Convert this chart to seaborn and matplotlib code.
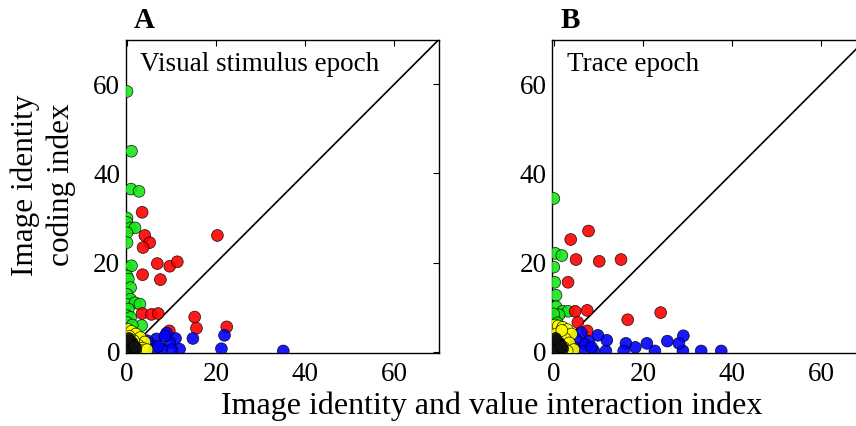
import seaborn as sns
import matplotlib.pyplot as plt
import pandas as pd

# panel A: visual stimulus epoch
green_x_a = [0.0, 1.0, 0.9, 2.7, 0.0, 0.0, 0.8, 1.8, 0.0, 0.0, 0.0, 1.0, 0.0, 0.3, 0.8, 0.0, 0.8, 0.0, 1.8, 2.9, 0.3, 0.0, 0.8, 0.0, 3.3, 0.2, 0.5, 1.2]
green_y_a = [58.4, 45.0, 36.5, 36.0, 30.0, 29.0, 27.8, 27.8, 26.7, 24.5, 18.9, 19.3, 17.0, 16.3, 14.4, 12.9, 11.8, 10.7, 11.0, 10.7, 9.6, 8.1, 7.7, 6.6, 5.9, 5.0, 4.5, 6.0]
red_x_a = [3.4, 4.0, 5.1, 3.6, 20.3, 6.8, 9.6, 11.3, 3.5, 7.5, 3.4, 5.5, 7.0, 15.2, 15.6, 22.4, 9.5]
red_y_a = [31.3, 26.1, 24.5, 23.4, 26.1, 19.8, 19.2, 20.2, 17.3, 16.2, 8.6, 8.4, 8.6, 7.8, 5.3, 5.6, 4.7]
blue_x_a = [35.1, 21.2, 21.9, 14.8, 8.9, 10.9, 6.6, 9.6, 11.8, 10.0, 7.8, 5.9, 5.1, 4.5, 7.0, 3.8, 8.5]
blue_y_a = [0.2, 0.7, 3.7, 3.0, 4.2, 3.0, 2.9, 2.1, 0.6, 0.5, 0.6, 0.5, 1.8, 2.5, 1.2, 0.8, 3.5]
yellow_x_a = [0.3, 1.0, 2.0, 3.0, 4.0, 2.5, 1.5, 0.5, 3.5, 0.8, 1.8, 2.8, 0.2, 1.2, 4.5, 0.6]
yellow_y_a = [5.0, 4.6, 4.0, 3.2, 2.2, 1.5, 2.5, 3.5, 0.8, 1.2, 0.6, 0.4, 2.0, 0.3, 0.5, 0.1]
black_x_a = [0.1, 0.5, 1.0, 1.5, 0.3, 0.8, 1.2, 0.2, 0.6, 2.0, 0.4, 1.7]
black_y_a = [0.2, 0.5, 1.0, 0.3, 1.5, 0.1, 2.0, 0.8, 2.5, 0.7, 3.0, 1.2]

# panel B: trace epoch
green_x_b = [0.0, 0.3, 1.8, 0.0, 0.2, 0.5, 0.5, 2.0, 3.2, 0.2, 1.2, 0.0, 0.8, 0.3]
green_y_b = [34.4, 22.1, 21.6, 19.0, 15.6, 12.7, 10.1, 9.1, 9.1, 7.1, 8.3, 8.5, 6.5, 5.8]
red_x_b = [7.8, 3.8, 5.0, 10.2, 15.1, 3.2, 4.8, 7.5, 24.0, 16.6, 5.4, 7.5]
red_y_b = [27.1, 25.2, 20.7, 20.3, 20.7, 15.6, 9.1, 9.3, 8.8, 7.2, 6.6, 4.7]
blue_x_b = [37.6, 33.1, 29.0, 29.1, 28.1, 25.5, 22.7, 20.9, 18.3, 16.2, 15.7, 11.7, 11.9, 9.9, 9.0, 7.8, 6.2, 6.9, 6.2, 5.0, 4.5, 8.5]
blue_y_b = [0.2, 0.2, 0.2, 3.6, 1.9, 2.4, 0.2, 1.9, 1.0, 1.9, 0.2, 0.2, 2.6, 3.7, 0.2, 2.4, 4.3, 1.7, 0.2, 2.8, 1.0, 1.0]
yellow_x_b = [0.2, 1.0, 2.0, 3.0, 4.0, 0.5, 1.5, 2.5, 3.5, 0.3, 1.2, 2.2, 4.5, 0.8, 3.0, 1.8]
yellow_y_b = [6.0, 5.8, 5.5, 5.0, 4.0, 4.0, 3.5, 3.0, 2.0, 2.0, 1.5, 1.0, 0.5, 0.3, 0.2, 4.8]
black_x_b = [0.1, 0.5, 1.0, 1.5, 0.3, 0.8, 1.2, 0.2, 0.6, 2.0, 0.4, 1.7]
black_y_b = [0.2, 0.5, 1.0, 0.3, 1.5, 0.1, 2.0, 0.8, 2.5, 0.7, 3.0, 1.2]

ticks = [0, 20, 40, 60]
panel_titles = {"A": "Visual stimulus epoch", "B": "Trace epoch"}
palette = {"green": "#19e619", "red": "#ff0000", "blue": "#0000ff",
           "yellow": "#ffff00", "black": "#111111"}


def make_frame(panel, groups):
    rows = []
    for name, xs, ys in groups:
        for x, y in zip(xs, ys):
            rows.append({"panel": panel, "group": name, "x": x, "y": y})
    return pd.DataFrame(rows)


df = pd.concat([
    make_frame("A", [("green", green_x_a, green_y_a), ("red", red_x_a, red_y_a),
                     ("blue", blue_x_a, blue_y_a), ("yellow", yellow_x_a, yellow_y_a),
                     ("black", black_x_a, black_y_a)]),
    make_frame("B", [("green", green_x_b, green_y_b), ("red", red_x_b, red_y_b),
                     ("blue", blue_x_b, blue_y_b), ("yellow", yellow_x_b, yellow_y_b),
                     ("black", black_x_b, black_y_b)]),
], ignore_index=True)

sns.set_style("white")
plt.rcParams['font.family'] = ['Liberation Serif', 'DejaVu Serif']
plt.rcParams['text.color'] = 'black'

fig = plt.figure(figsize=(8.56, 4.26), dpi=100)
lefts = {"A": 0.1468, "B": 0.6454}

for panel in ["A", "B"]:
    ax = fig.add_axes([lefts[panel], 0.172, 0.3657, 0.7347])
    sns.scatterplot(data=df[df.panel == panel], x="x", y="y", hue="group",
                    palette=palette, s=72, edgecolor=(0, 0, 0, 0.6), linewidth=0.5,
                    alpha=0.9, legend=False, ax=ax, zorder=3)
    ax.plot([0, 70], [0, 70], color="black", lw=1.2, zorder=2)
    ax.set_xlim(-0.3, 70)
    ax.set_ylim(-0.2, 70)
    ax.set_xticks(ticks)
    ax.set_yticks(ticks)
    ax.tick_params(direction="in", length=4, width=0.8, top=True, right=True,
                   labelsize=19.5, colors="black")
    ax.tick_params(axis="x", pad=7)
    ax.tick_params(axis="y", pad=4)
    for sp in ax.spines.values():
        sp.set_linewidth(1.0)
        sp.set_color("black")
    ax.set_xlabel("")
    ax.set_ylabel("")
    ax.text(0.045, 0.9, panel_titles[panel], transform=ax.transAxes,
            fontsize=19.5, ha="left", va="baseline", color="black")
    ax.text(0.025, 1.037, panel, transform=ax.transAxes, fontsize=21,
            fontweight="bold", ha="left", va="baseline", color="black")

fig.text(0.574, 0.028, "Image identity and value interaction index",
         fontsize=23, ha="center", va="baseline", color="black")
fig.text(0.029, 0.566, "Image identity", fontsize=22.5, rotation=90,
         ha="center", va="center", color="black")
fig.text(0.072, 0.566, "coding index", fontsize=22.5, rotation=90,
         ha="center", va="center", color="black")

fig.savefig("out.png", dpi=100)
